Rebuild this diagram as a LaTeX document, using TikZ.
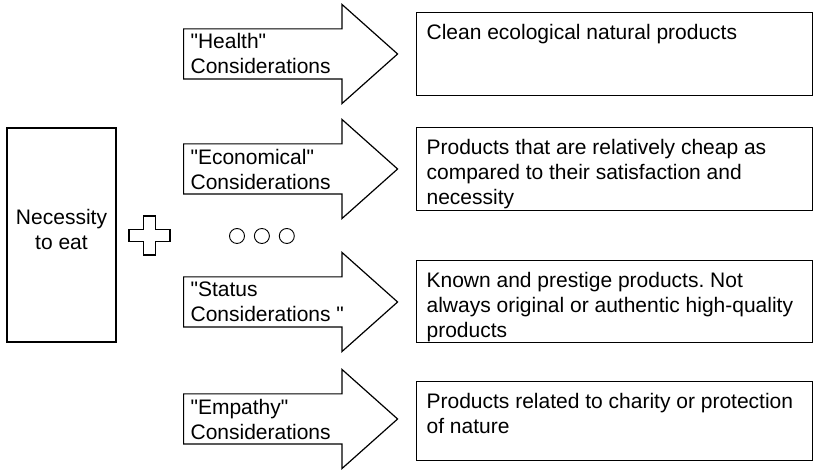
\documentclass[tikz,border=0pt]{standalone}
\usepackage{fontspec}
\setmainfont{Liberation Sans}
\frenchspacing
\usetikzlibrary{shapes.arrows, positioning}

\begin{document}
\begin{tikzpicture}[x=1pt, y=1pt, line width=1.2pt,
  txt/.style={font=\fontsize{21}{25}\selectfont},
  cons/.style={single arrow, draw, single arrow head extend=24.5pt, single arrow tip angle=83.4,
    minimum height=214pt, inner xsep=0pt, inner ysep=24.5pt, anchor=tail},
  constxt/.style={txt, align=left, inner sep=0pt, anchor=north west},
  result/.style={draw, minimum width=396pt, minimum height=#1, anchor=north west, inner sep=0pt},
  result/.default=83pt,
  desc/.style={txt, align=left, inner sep=0pt, anchor=north west},
  dot/.style={circle, draw, line width=0.9pt, minimum size=15pt, inner sep=0pt}]
  \useasboundingbox (0,0) rectangle (815,470);
  % left block
  \node[draw, minimum width=109pt, minimum height=214pt] (need) at (61.5,235) {};
  \node[txt, align=center, inner sep=0pt] (needtxt) at ([yshift=5pt]need.center) {Necessity\\to eat};
  \coordinate (plus) at (149.5,234.5);
  \draw[shift={(plus)}] (-6,19.5) -- ++(12,0) -- ++(0,-13.5) -- ++(14.5,0) -- ++(0,-12) -- ++(-14.5,0)
    -- ++(0,-13.5) -- ++(-12,0) -- ++(0,13.5) -- ++(-14.5,0) -- ++(0,12) -- ++(14.5,0) -- cycle;
  \node[dot] (d1) at (237,234) {};
  \node[dot, right=9pt of d1] (d2) {};
  \node[dot, right=9pt of d2] (d3) {};
  % considerations
  \node[cons] (health) at (183,416) {};
  \node[cons] (econ) at (183,301) {};
  \node[cons] (status) at (183,168) {};
  \node[cons] (empathy) at (183,51) {};
  \node[constxt] (healthlbl) at ([shift={(7pt,21.5pt)}]health.tail) {\textquotedbl Health\textquotedbl\\Considerations};
  \node[constxt] (econlbl) at ([shift={(7pt,20.5pt)}]econ.tail) {\textquotedbl Economical\textquotedbl\\Considerations};
  \node[constxt] (statuslbl) at ([shift={(7pt,20.5pt)}]status.tail) {\textquotedbl Status\\Considerations \textquotedbl};
  \node[constxt] (empathylbl) at ([shift={(7pt,20.5pt)}]empathy.tail) {\textquotedbl Empathy\textquotedbl\\Considerations};
  % products
  \node[result] (healthbox) at (416,458) {};
  \node[result] (econbox) at (416,343) {};
  \node[result=82pt] (statusbox) at (416,210) {};
  \node[result=79pt] (empathybox) at (416,89) {};
  \node[desc] (healthtxt) at ([shift={(10pt,-12pt)}]healthbox.north west) {Clean ecological natural products};
  \node[desc] (econtxt) at ([shift={(10pt,-12pt)}]econbox.north west) {Products that are relatively cheap as\\compared to their satisfaction and\\necessity};
  \node[desc] (statustxt) at ([shift={(10pt,-12pt)}]statusbox.north west) {Known and prestige products. Not\\always original or authentic high-quality\\products};
  \node[desc] (empathytxt) at ([shift={(10pt,-12pt)}]empathybox.north west) {Products related to charity or protection\\of nature};
\end{tikzpicture}
\end{document}
